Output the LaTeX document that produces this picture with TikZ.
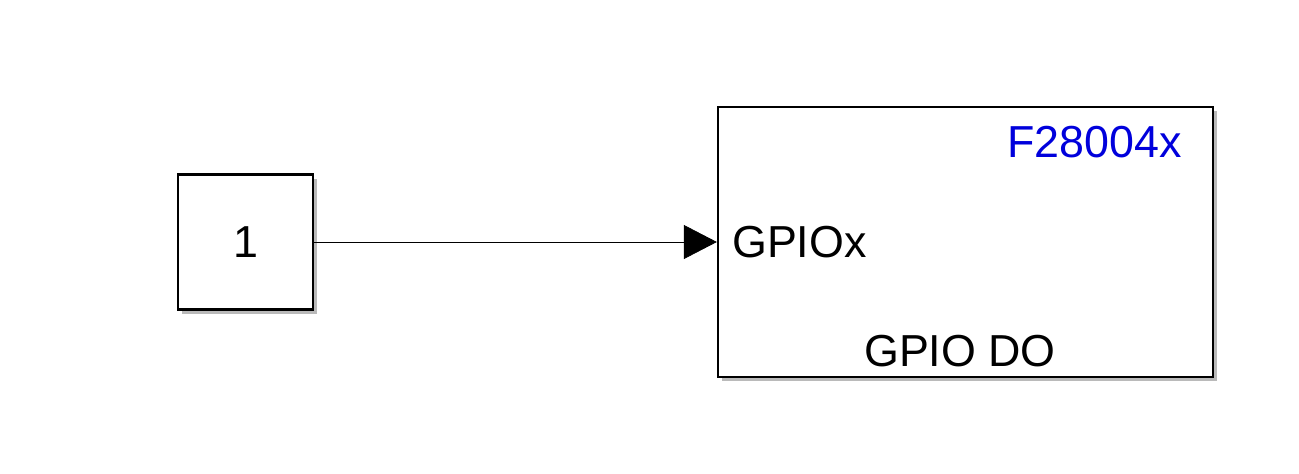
\documentclass[tikz,border=0pt]{standalone}
\usepackage{fontspec}
\setmainfont{Liberation Sans}
\usetikzlibrary{arrows.meta,positioning,shadows}

\begin{document}
\begin{tikzpicture}[
  signal/.style={-{Triangle[length=0.66cm,width=0.68cm]}, line width=0.4pt},
  block/.style={draw, rectangle, line width=1.3pt, fill=white,
    drop shadow={shadow xshift=0.08cm, shadow yshift=-0.08cm, fill=black!45, opacity=0.6}},
  txt/.style={inner sep=0pt, font=\fontsize{25.5}{29}\selectfont},
  every node/.style={font=\fontsize{25.5}{29}\selectfont}
]
  % marco de la figura
  \useasboundingbox (0,0) rectangle (25.98,9.46);

  % --- BLOQUES ---
  % Bloque constante
  \node[block, minimum width=2.7cm, minimum height=2.7cm] (const) at (4.91, 4.62) {1};
  % Bloque GPIO DO
  \node[block, minimum width=9.9cm, minimum height=5.4cm] (gpio) at (19.31, 4.62) {};

  % Textos dentro del bloque GPIO
  \node[txt, anchor=east, text={rgb,255:red,0;green,0;blue,220}] (chip) at ([xshift=-0.64cm, yshift=-0.72cm]gpio.north east) {F28004x};
  \node[txt, anchor=west] (port) at ([xshift=0.3cm]gpio.west) {GPIOx};
  \node[txt] (name) at ([xshift=-0.11cm, yshift=0.54cm]gpio.south) {GPIO DO};

  % --- CONEXION ---
  \draw[signal] (const.east) -- (gpio.west);

\end{tikzpicture}
\end{document}
